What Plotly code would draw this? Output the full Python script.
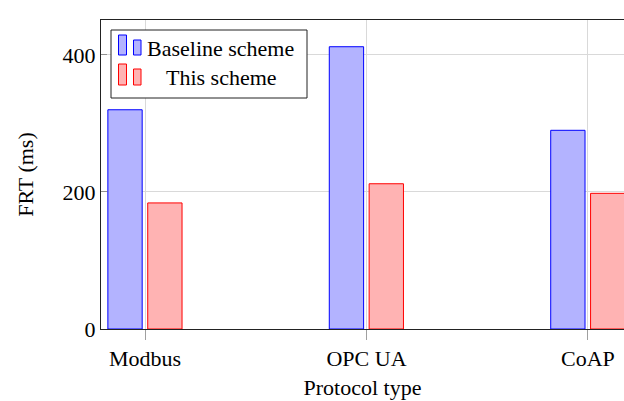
import plotly.graph_objects as go

# Fault recovery time per protocol
protocols = ["Modbus", "OPC UA", "CoAP"]
baseline_frt = [320, 412, 290]
scheme_frt = [184, 212, 198]
series_names = ["Baseline scheme", "This scheme"]
y_ticks = [0, 200, 400]

W, H = 624, 401
L, R, T, B = 101, 0, 20, 72
PW, PH = W - L - R, H - T - B

FONT = "Liberation Serif, Times New Roman, serif"
BLUE_FILL, BLUE_LINE = "#B3B3FF", "#0000FF"
RED_FILL, RED_LINE = "#FFB3B3", "#FF0000"
GRID = "#D9D9D9"


def px(x):
    return (x - L) / PW


def py(y):
    return (H - B - y) / PH


fig = go.Figure()
fig.add_trace(go.Bar(
    x=protocols, y=baseline_frt, name=series_names[0],
    width=0.155, offset=-0.168,
    marker=dict(color=BLUE_FILL, line=dict(color=BLUE_LINE, width=1)),
    showlegend=False,
))
fig.add_trace(go.Bar(
    x=protocols, y=scheme_frt, name=series_names[1],
    width=0.155, offset=0.012,
    marker=dict(color=RED_FILL, line=dict(color=RED_LINE, width=1)),
    showlegend=False,
))

# Legend box drawn in pgfplots style (two small bars per entry)
shapes = [dict(type="rect", xref="paper", yref="paper",
               x0=px(111), x1=px(307), y0=py(98), y1=py(30),
               line=dict(color="#222222", width=1), fillcolor="white", layer="above")]
icon_rows = [
    (BLUE_FILL, BLUE_LINE, 35, 40, 55),
    (RED_FILL, RED_LINE, 64, 69, 85),
]
for fill, line, top1, top2, bottom in icon_rows:
    shapes.append(dict(type="rect", xref="paper", yref="paper",
                       x0=px(118.5), x1=px(126.5), y0=py(bottom), y1=py(top1),
                       line=dict(color=line, width=1), fillcolor=fill, layer="above"))
    shapes.append(dict(type="rect", xref="paper", yref="paper",
                       x0=px(133.5), x1=px(141), y0=py(bottom), y1=py(top2),
                       line=dict(color=line, width=1), fillcolor=fill, layer="above"))

annotations = [
    dict(text=series_names[0], xref="paper", yref="paper", x=px(220.5), y=py(48),
         xanchor="center", yanchor="middle", showarrow=False,
         font=dict(family=FONT, size=22, color="black")),
    dict(text=series_names[1], xref="paper", yref="paper", x=px(221.5), y=py(77),
         xanchor="center", yanchor="middle", showarrow=False,
         font=dict(family=FONT, size=22, color="black")),
]

fig.update_layout(
    width=W, height=H,
    margin=dict(l=L, r=R, t=T, b=B, autoexpand=False),
    paper_bgcolor="white", plot_bgcolor="white",
    barmode="overlay",
    font=dict(family=FONT, size=22, color="black"),
    shapes=shapes, annotations=annotations,
    xaxis=dict(
        range=[-0.199, 2.163],
        showgrid=True, gridcolor=GRID, gridwidth=1,
        showline=True, linecolor="#222222", linewidth=1, mirror=True,
        ticks="outside", ticklen=10, tickcolor="#A0A0A0", tickwidth=1.2,
        tickfont=dict(family=FONT, size=22),
        title=dict(text="Protocol type", font=dict(family=FONT, size=22), standoff=9),
        automargin=False, zeroline=False,
    ),
    yaxis=dict(
        range=[0, 451],
        tickvals=y_ticks, ticktext=[str(v) for v in y_ticks],
        showgrid=True, gridcolor=GRID, gridwidth=1,
        showline=True, linecolor="#222222", linewidth=1, mirror=False,
        ticks="inside", ticklen=6, tickcolor="#909090", tickwidth=1.2,
        tickfont=dict(family=FONT, size=22),
        title=dict(text="FRT (ms)", font=dict(family=FONT, size=22), standoff=22),
        automargin=False, zeroline=False,
    ),
)

fig.write_html("out.html")
